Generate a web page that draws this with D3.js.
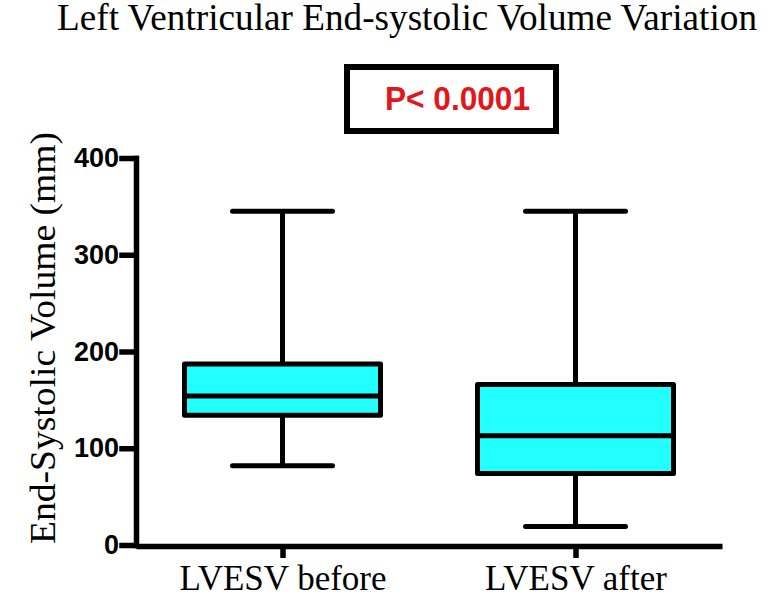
<!DOCTYPE html>
<html>
<head>
<meta charset="utf-8">
<script src="https://cdn.jsdelivr.net/npm/d3@7"></script>
<style>
  body { margin: 0; background: #fff; }
  svg { display: block; }
</style>
</head>
<body>
<svg id="chart" width="771" height="597"></svg>
<script>
  // values
  const groups = ['LVESV before', 'LVESV after'];
  const whiskerLow = [82, 19];
  const q1 = [134, 74];
  const median = [154, 113];
  const q3 = [187, 166];
  const whiskerHigh = [345, 345];
  const yTicks = [0, 100, 200, 300, 400];

  const title = 'Left Ventricular End-systolic Volume Variation';
  const yLabel = 'End-Systolic Volume (mm)';
  const pText = 'P< 0.0001';

  const boxes = groups.map((g, i) => ({
    name: g, lo: whiskerLow[i], q1: q1[i], med: median[i], q3: q3[i], hi: whiskerHigh[i]
  }));

  const svg = d3.select('#chart');

  const x = d3.scalePoint()
    .domain(groups)
    .range([136, 722])
    .padding(0.5);

  const y = d3.scaleLinear()
    .domain([0, 400])
    .range([545, 158]);

  const boxW = 196, capW = 100;

  // title
  svg.append('text')
    .attr('x', 57).attr('y', 30)
    .attr('font-family', 'Liberation Serif, Times New Roman, serif')
    .attr('font-size', 37)
    .attr('textLength', 700)
    .attr('lengthAdjust', 'spacingAndGlyphs')
    .text(title);

  // p-value box
  svg.append('rect')
    .attr('x', 347).attr('y', 67)
    .attr('width', 209).attr('height', 64)
    .attr('fill', '#fff')
    .attr('stroke', '#000')
    .attr('stroke-width', 6);

  svg.append('text')
    .attr('x', 385).attr('y', 110)
    .attr('font-family', 'Liberation Sans, Arial, sans-serif')
    .attr('font-weight', 'bold')
    .attr('font-size', 33)
    .attr('fill', '#e3161c')
    .attr('textLength', 145)
    .attr('lengthAdjust', 'spacingAndGlyphs')
    .text(pText);

  // y axis label
  svg.append('text')
    .attr('transform', 'translate(55,338) rotate(-90)')
    .attr('text-anchor', 'middle')
    .attr('font-family', 'Liberation Serif, Times New Roman, serif')
    .attr('font-size', 36)
    .attr('textLength', 412)
    .attr('lengthAdjust', 'spacingAndGlyphs')
    .text(yLabel);

  // boxes
  const g = svg.append('g');

  const item = g.selectAll('.box')
    .data(boxes)
    .enter().append('g')
    .attr('class', 'box');

  // whisker stems
  item.append('line')
    .attr('x1', d => x(d.name)).attr('x2', d => x(d.name))
    .attr('y1', d => y(d.hi)).attr('y2', d => y(d.q3))
    .attr('stroke', '#000').attr('stroke-width', 5);
  item.append('line')
    .attr('x1', d => x(d.name)).attr('x2', d => x(d.name))
    .attr('y1', d => y(d.q1)).attr('y2', d => y(d.lo))
    .attr('stroke', '#000').attr('stroke-width', 5);

  // whisker caps
  ['hi', 'lo'].forEach(k => {
    item.append('line')
      .attr('x1', d => x(d.name) - capW / 2).attr('x2', d => x(d.name) + capW / 2)
      .attr('y1', d => y(d[k])).attr('y2', d => y(d[k]))
      .attr('stroke', '#000').attr('stroke-width', 5)
      .attr('stroke-linecap', 'round');
  });

  item.append('rect')
    .attr('x', d => x(d.name) - boxW / 2)
    .attr('y', d => y(d.q3))
    .attr('width', boxW)
    .attr('height', d => y(d.q1) - y(d.q3))
    .attr('fill', '#22ffff')
    .attr('stroke', '#000')
    .attr('stroke-width', 5)
    .attr('stroke-linejoin', 'round');

  item.append('line')
    .attr('x1', d => x(d.name) - boxW / 2).attr('x2', d => x(d.name) + boxW / 2)
    .attr('y1', d => y(d.med)).attr('y2', d => y(d.med))
    .attr('stroke', '#000').attr('stroke-width', 5);

  // axes
  const yAxis = svg.append('g')
    .attr('transform', 'translate(136,0)')
    .call(d3.axisLeft(y).tickValues(yTicks).tickSize(14).tickSizeOuter(0).tickPadding(3));

  const xAxis = svg.append('g')
    .attr('transform', 'translate(0,546)')
    .call(d3.axisBottom(x).tickSize(12).tickSizeOuter(0).tickPadding(7));

  yAxis.selectAll('path, line')
    .attr('stroke', '#000').attr('stroke-width', 5.5)
    .attr('stroke-linecap', 'square');
  xAxis.selectAll('path, line')
    .attr('stroke', '#000').attr('stroke-width', 5.5);

  yAxis.selectAll('text')
    .attr('font-family', 'Liberation Sans, Arial, sans-serif')
    .attr('font-weight', 'bold')
    .attr('font-size', 27)
    .attr('fill', '#000');

  xAxis.selectAll('text')
    .attr('font-family', 'Liberation Serif, Times New Roman, serif')
    .attr('font-size', 35)
    .attr('fill', '#000');
</script>
</body>
</html>
